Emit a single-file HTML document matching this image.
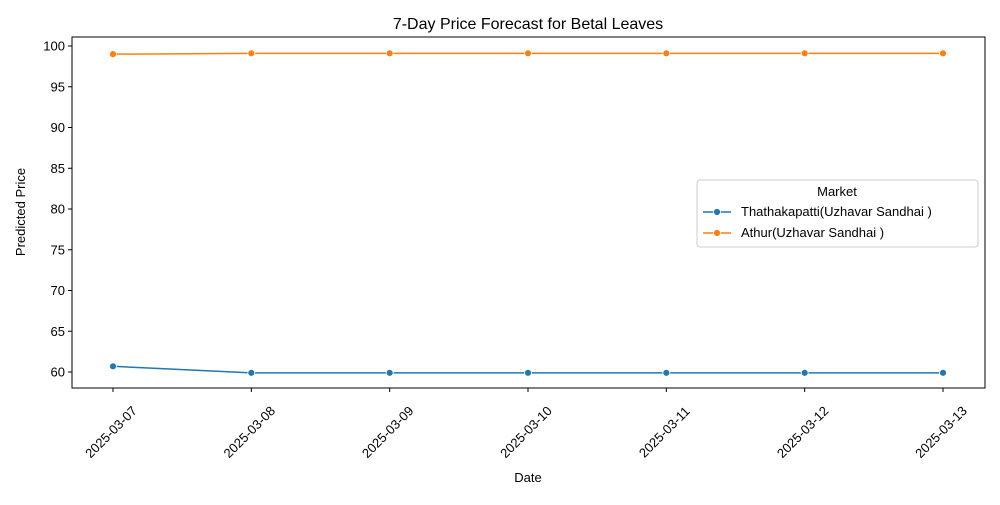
<!DOCTYPE html>
<html><head><meta charset="utf-8"><style>
body{margin:0;background:#fff;font-family:"Liberation Sans","DejaVu Sans",sans-serif}
svg text{font-family:"Liberation Sans","DejaVu Sans",sans-serif}
</style></head><body>
<svg id="chart" width="1000" height="500">
<rect x="0" y="0" width="1000" height="500" fill="#fff"/>
<text x="528" y="29" font-size="16" text-anchor="middle">7-Day Price Forecast for Betal Leaves</text>
<rect x="72" y="37" width="913" height="351" fill="none" stroke="#000" stroke-width="1"/>
<g id="yaxis"></g><g id="xaxis"></g><g id="series"></g>
<text x="528" y="482" font-size="13" text-anchor="middle">Date</text>
<text transform="translate(25,212) rotate(-90)" font-size="13" text-anchor="middle">Predicted Price</text>
<g>
<rect x="697" y="180" width="281" height="67" rx="3" fill="#fff" stroke="#ccc"/>
<text x="837" y="196" font-size="13" text-anchor="middle">Market</text>
<g><line x1="703" y1="212" x2="731" y2="212" stroke="#1f77b4" stroke-width="1.5"/><circle cx="717" cy="212" r="3.5" fill="#1f77b4" stroke="#fff" stroke-width="0.8"/><text x="741" y="216" font-size="13">Thathakapatti(Uzhavar Sandhai )</text></g>
<g><line x1="703" y1="233" x2="731" y2="233" stroke="#ff7f0e" stroke-width="1.5"/><circle cx="717" cy="233" r="3.5" fill="#ff7f0e" stroke="#fff" stroke-width="0.8"/><text x="741" y="237" font-size="13">Athur(Uzhavar Sandhai )</text></g>
</g>
</svg>
<script>
const dates=["2025-03-07","2025-03-08","2025-03-09","2025-03-10","2025-03-11","2025-03-12","2025-03-13"];
const thathakapatti=[60.7,59.9,59.9,59.9,59.9,59.9,59.9];
const athur=[99.0,99.1,99.1,99.1,99.1,99.1,99.1];
const yTicks=[60,65,70,75,80,85,90,95,100];
const NS="http://www.w3.org/2000/svg";
function xs(i){return 113+i*(943-113)/(dates.length-1);}
function ys(v){return 372-(v-60)*(372-46)/40;}
function mk(tag,attrs,parent){const e=document.createElementNS(NS,tag);for(const k in attrs)e.setAttribute(k,attrs[k]);parent.appendChild(e);return e;}
const ya=document.getElementById('yaxis'),xa=document.getElementById('xaxis'),sg=document.getElementById('series');
yTicks.forEach(t=>{const y=ys(t);
 const l=mk('line',{x1:68,x2:72,y1:y,y2:y,stroke:'#000'},ya);
 
 
 const tx=mk('text',{x:65,y:y+4.5,'font-size':13,'text-anchor':'end'},ya);tx.textContent=t;
 
 });
dates.forEach((d,i)=>{const x=xs(i);
 const l=mk('line',{x1:x,x2:x,y1:388,y2:392,stroke:'#000'},xa);
 
 
 const cx=x-2,cy=432;
 const tx=mk('text',{x:cx,y:cy+4.5,'font-size':13,'text-anchor':'middle',transform:`rotate(-45 ${cx} ${cy})`},xa);tx.textContent=d;
 
 });
function series(vals,color,name){
 const p=mk('polyline',{points:vals.map((v,i)=>xs(i)+','+ys(v)).join(' '),fill:'none',stroke:color,'stroke-width':1.5},sg);
 
 
 vals.forEach((v,i)=>{const c=mk('circle',{cx:xs(i),cy:ys(v),r:3.5,fill:color,stroke:'#fff','stroke-width':0.8},sg);
  
  });
}
series(thathakapatti,'#1f77b4','thathakapatti');
series(athur,'#ff7f0e','athur');
</script>
</body></html>
